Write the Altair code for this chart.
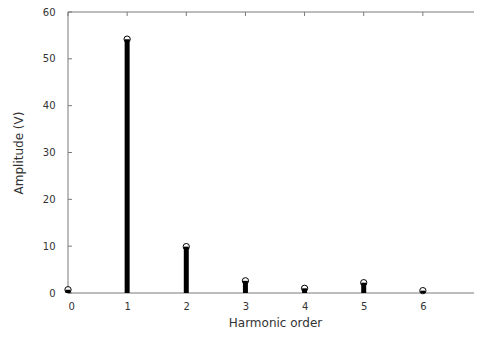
import altair as alt
import pandas as pd

orders = [0, 1, 2, 3, 4, 5, 6, 7]
amplitudes = [0.7, 54.2, 9.9, 2.6, 1.0, 2.2, 0.5, 1.3]
y_ticks = [0, 10, 20, 30, 40, 50, 60]
x_ticks = [0, 1, 2, 3, 4, 5, 6, 7]

df = pd.DataFrame({"order": orders, "amp": amplitudes})
yt = pd.DataFrame({"v": y_ticks})
xt = pd.DataFrame({"v": x_ticks})

FONT = "DejaVu Sans"
GREY = "#7a7a7a"
TXT = "#333333"

# plot area is 414 px wide, but the window cuts it at the right edge
xs = alt.Scale(domain=[0, 7], range=[0, 414], nice=False, zero=False)
ys = alt.Scale(domain=[0, 60], nice=False)

xaxis = alt.Axis(values=x_ticks, format="d", grid=False, ticks=False, domain=False,
                 labelFont=FONT, labelFontSize=10, labelColor=TXT, labelPadding=8,
                 title="Harmonic order", titleFont=FONT, titleFontSize=12,
                 titleFontWeight="normal", titleColor=TXT, titlePadding=6,
                 titleX=207)
yaxis = alt.Axis(values=y_ticks, grid=False, ticks=False, domain=False,
                 labelFont=FONT, labelFontSize=10, labelColor=TXT, labelPadding=13,
                 title="Amplitude (V)", titleFont=FONT, titleFontSize=12,
                 titleFontWeight="normal", titleColor=TXT, titlePadding=17)

base = alt.Chart(df)
one = pd.DataFrame({"a": [0]})

frame_top = alt.Chart(one).mark_rule(color=GREY, strokeWidth=1).encode(
    x=alt.value(0), x2=alt.value(414), y=alt.value(0))
frame_bottom = alt.Chart(one).mark_rule(color=GREY, strokeWidth=1).encode(
    x=alt.value(0), x2=alt.value(414), y=alt.value(281))
frame_left = alt.Chart(one).mark_rule(color=GREY, strokeWidth=1).encode(
    x=alt.value(0), y=alt.value(0), y2=alt.value(281))

left_ticks = alt.Chart(yt).mark_rule(color=GREY, strokeWidth=1).encode(
    y=alt.Y("v:Q", scale=ys, axis=yaxis), x=alt.value(0), x2=alt.value(4))
right_ticks = alt.Chart(yt).mark_rule(color=GREY, strokeWidth=1).encode(
    y=alt.Y("v:Q", scale=ys), x=alt.value(410), x2=alt.value(414))
top_ticks = alt.Chart(xt).mark_rule(color=GREY, strokeWidth=1).encode(
    x=alt.X("v:Q", scale=xs, axis=xaxis), y=alt.value(0), y2=alt.value(4))

circles = base.mark_point(shape="circle", size=40, filled=True, fill="white",
                          stroke="black", strokeWidth=1, opacity=1).encode(
    x=alt.X("order:Q", scale=xs), y=alt.Y("amp:Q", scale=ys))
bars = base.mark_rule(color="black", strokeWidth=5).encode(
    x=alt.X("order:Q", scale=xs), y=alt.Y("amp:Q", scale=ys), y2=alt.datum(0))

chart = alt.layer(frame_top, frame_bottom, frame_left, left_ticks, right_ticks,
                  top_ticks, circles, bars).properties(
    width=406, height=281,
    autosize=alt.AutoSizeParams(type="none"),
    padding={"left": 60, "top": 4, "right": 0, "bottom": 35},
    background="white",
).configure_view(strokeWidth=0, fill="white")

chart.save("out.html", embed_options={"renderer": "svg", "actions": False})
